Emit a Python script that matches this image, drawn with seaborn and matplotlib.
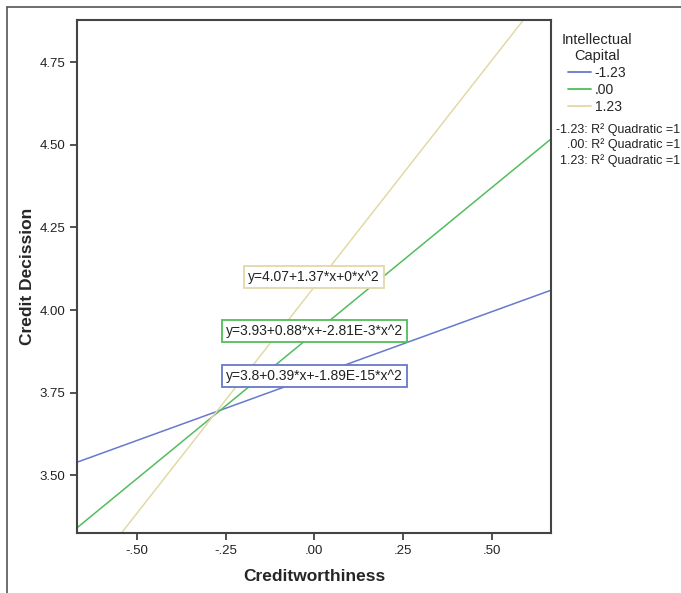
import pandas as pd
import seaborn as sns
import matplotlib.pyplot as plt
from matplotlib.lines import Line2D
from matplotlib.ticker import FuncFormatter

# endpoints of the fitted lines
groups = ["-1.23", ".00", "1.23"]
x_ends = [-0.67, 0.67]
y_blue = [3.539, 4.061]
y_green = [3.340, 4.520]
y_beige = [3.152, 4.988]
equations = ["y=3.8+0.39*x+-1.89E-15*x^2",
             "y=3.93+0.88*x+-2.81E-3*x^2",
             "y=4.07+1.37*x+0*x^2"]
eq_y = [3.80, 3.937, 4.10]
r2_labels = ["-1.23: R² Quadratic =1",
             ".00: R² Quadratic =1",
             "1.23: R² Quadratic =1"]

colors = ["#6878cc", "#52bd5e", "#e2d9a8"]

df = pd.DataFrame({
    "Creditworthiness": x_ends * 3,
    "Credit Decission": y_blue + y_green + y_beige,
    "Intellectual Capital": [g for g in groups for _ in x_ends],
})

sns.set_style("white")
plt.rcParams['font.family'] = ['Liberation Sans', 'DejaVu Sans']

fig = plt.figure(figsize=(6.81, 5.93), dpi=100)
ax = fig.add_axes([0.113, 0.101, 0.696, 0.865])

sns.lineplot(data=df, x="Creditworthiness", y="Credit Decission",
             hue="Intellectual Capital", palette=colors, linewidth=1.1,
             legend=False, ax=ax)

ax.set_xlim(-0.669, 0.667)
ax.set_ylim(3.325, 4.877)
ax.set_xticks([-0.5, -0.25, 0, 0.25, 0.5])
ax.set_yticks([3.5, 3.75, 4.0, 4.25, 4.5, 4.75])

def spss_fmt(v, pos):
    s = f"{v:.2f}"
    s = s.replace("0.", ".", 1) if abs(v) < 1 else s
    return s

ax.xaxis.set_major_formatter(FuncFormatter(spss_fmt))
ax.yaxis.set_major_formatter(FuncFormatter(lambda v, p: f"{v:.2f}"))
ax.tick_params(axis="both", direction="out", length=5, width=1.2,
               color="#333333", labelsize=9.5, labelcolor="#222222",
               left=True, bottom=True)
for sp in ax.spines.values():
    sp.set_color("#444444")
    sp.set_linewidth(1.5)

ax.set_xlabel("Creditworthiness", fontsize=12.5, fontweight="bold", labelpad=9)
ax.set_ylabel("Credit Decission", fontsize=12.5, fontweight="bold", labelpad=3)

for eq, yy, c in zip(equations, eq_y, colors):
    ax.text(0.0, yy, eq, ha="center", va="center", fontsize=10,
            color="#222222",
            bbox=dict(boxstyle="square,pad=0.3", facecolor="white",
                      edgecolor=c, linewidth=1.3))

handles = [Line2D([], [], color=c, linewidth=1.3) for c in colors]
leg = fig.legend(handles, groups, title="Intellectual\nCapital",
                 loc="upper left", bbox_to_anchor=(0.807, 0.965),
                 frameon=False, fontsize=10, title_fontsize=10.5,
                 handlelength=1.6, handletextpad=0.3, labelspacing=0.2)
leg.get_title().set_multialignment("center")

for i, t in enumerate(r2_labels):
    fig.text(0.999, 0.782 - i * 0.026, t, ha="right", va="center",
             fontsize=9, color="#222222")

# outer frame (left and top)
fig.add_artist(Line2D([0.010, 0.010], [0.0, 0.988], color="#555555",
                      linewidth=1.2, transform=fig.transFigure))
fig.add_artist(Line2D([0.010, 1.0], [0.988, 0.988], color="#555555",
                      linewidth=1.2, transform=fig.transFigure))

fig.savefig("out.png", dpi=100)
